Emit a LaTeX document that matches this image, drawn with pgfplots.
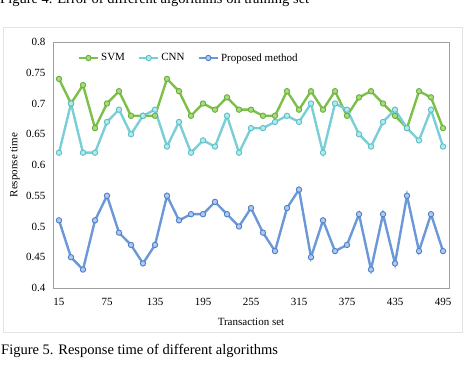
\documentclass[border=0pt]{standalone}
\usepackage{fontspec}
\setmainfont{Liberation Serif}
\usepackage{pgfplots}
\usepackage{pgfplotstable}
\pgfplotsset{compat=1.18}
\definecolor{svmline}{HTML}{7CC04A}
\definecolor{svmfill}{HTML}{A8DA80}
\definecolor{svmdraw}{HTML}{68AE38}
\definecolor{cnnline}{HTML}{78CFD6}
\definecolor{cnnfill}{HTML}{B6E9EC}
\definecolor{cnndraw}{HTML}{5BBFC8}
\definecolor{prline}{HTML}{6A98D8}
\definecolor{prfill}{HTML}{B0C9EE}
\definecolor{prdraw}{HTML}{4E7FC8}

\pgfplotstableread{
x y
15 0.74
30 0.70
45 0.73
60 0.66
75 0.70
90 0.72
105 0.68
120 0.68
135 0.68
150 0.74
165 0.72
180 0.68
195 0.70
210 0.69
225 0.71
240 0.69
255 0.69
270 0.68
285 0.68
300 0.72
315 0.69
330 0.72
345 0.69
360 0.72
375 0.68
390 0.71
405 0.72
420 0.70
435 0.68
450 0.66
465 0.72
480 0.71
495 0.66
}\svmdata

\pgfplotstableread{
x y
15 0.62
30 0.70
45 0.62
60 0.62
75 0.67
90 0.69
105 0.65
120 0.68
135 0.69
150 0.63
165 0.67
180 0.62
195 0.64
210 0.63
225 0.68
240 0.62
255 0.66
270 0.66
285 0.67
300 0.68
315 0.67
330 0.70
345 0.62
360 0.70
375 0.69
390 0.65
405 0.63
420 0.67
435 0.69
450 0.66
465 0.64
480 0.69
495 0.63
}\cnndata

\pgfplotstableread{
x y
15 0.51
30 0.45
45 0.43
60 0.51
75 0.55
90 0.49
105 0.47
120 0.44
135 0.47
150 0.55
165 0.51
180 0.52
195 0.52
210 0.54
225 0.52
240 0.50
255 0.53
270 0.49
285 0.46
300 0.53
315 0.56
330 0.45
345 0.51
360 0.46
375 0.47
390 0.52
405 0.43
420 0.52
435 0.44
450 0.55
465 0.46
480 0.52
495 0.46
}\prdata

\begin{document}
\begin{tikzpicture}
\path[use as bounding box] (0pt,0pt) rectangle (474pt,382pt);
\clip (0pt,0pt) rectangle (474pt,382pt);
\draw[gray!22, line width=0.8pt] (3pt,50pt) rectangle (462pt,355pt);
\node[anchor=base west, inner sep=0pt, font=\fontsize{14.5}{17}\selectfont] at (0pt,378pt) {Figure 4. Error of different algorithms on training set};
\node[anchor=base west, inner sep=0pt, font=\fontsize{14.5}{17}\selectfont] at (1pt,27pt) {Figure 5. Response time of different algorithms};
\begin{axis}[
  at={(53pt,94pt)}, anchor=south west,
  scale only axis, width=396pt, height=246pt,
  xmin=7.5, xmax=502.5, ymin=0.4, ymax=0.8,
  xtick={15,75,135,195,255,315,375,435,495},
  ytick={0.4,0.45,0.5,0.55,0.6,0.65,0.7,0.75,0.8},
  major tick length=0pt,
  axis line style={gray!75, line width=0.8pt},
  tick label style={font=\fontsize{11}{13}\selectfont},
  /pgf/number format/assume math mode=true,
  yticklabel style={/pgf/number format/fixed, /pgf/number format/precision=2, xshift=-4pt},
  xticklabel style={yshift=-7pt},
  xlabel={Transaction set}, ylabel={Response time},
  label style={font=\fontsize{11}{13}\selectfont},
  xlabel style={at={(axis description cs:0.5,-0.138)}, anchor=center},
  ylabel style={at={(axis description cs:-0.096,0.5)}, anchor=center},
  legend columns=-1,
  legend style={at={(axis description cs:0.062,0.935)}, anchor=west, draw=none, fill=none,
    font=\fontsize{11}{13}\selectfont, inner sep=0pt,
    /tikz/every even column/.append style={column sep=11pt}},
  legend image code/.code={\draw[mark repeat=2,mark phase=2] plot coordinates {(0pt,0pt) (9.5pt,0pt) (19pt,0pt)};},
]
\addplot[svmline, line width=2.4pt, mark=*, mark size=2.7pt, mark options={fill=svmfill, draw=svmdraw, line width=0.9pt}] table[x=x,y=y] {\svmdata};
\addlegendentry{SVM}
\addplot[cnnline, line width=2.4pt, mark=*, mark size=2.7pt, mark options={fill=cnnfill, draw=cnndraw, line width=0.9pt}] table[x=x,y=y] {\cnndata};
\addlegendentry{CNN}
\addplot[prline, line width=2.4pt, mark=*, mark size=2.7pt, mark options={fill=prfill, draw=prdraw, line width=0.9pt}] table[x=x,y=y] {\prdata};
\addlegendentry{Proposed method}
\end{axis}
\end{tikzpicture}
\end{document}
